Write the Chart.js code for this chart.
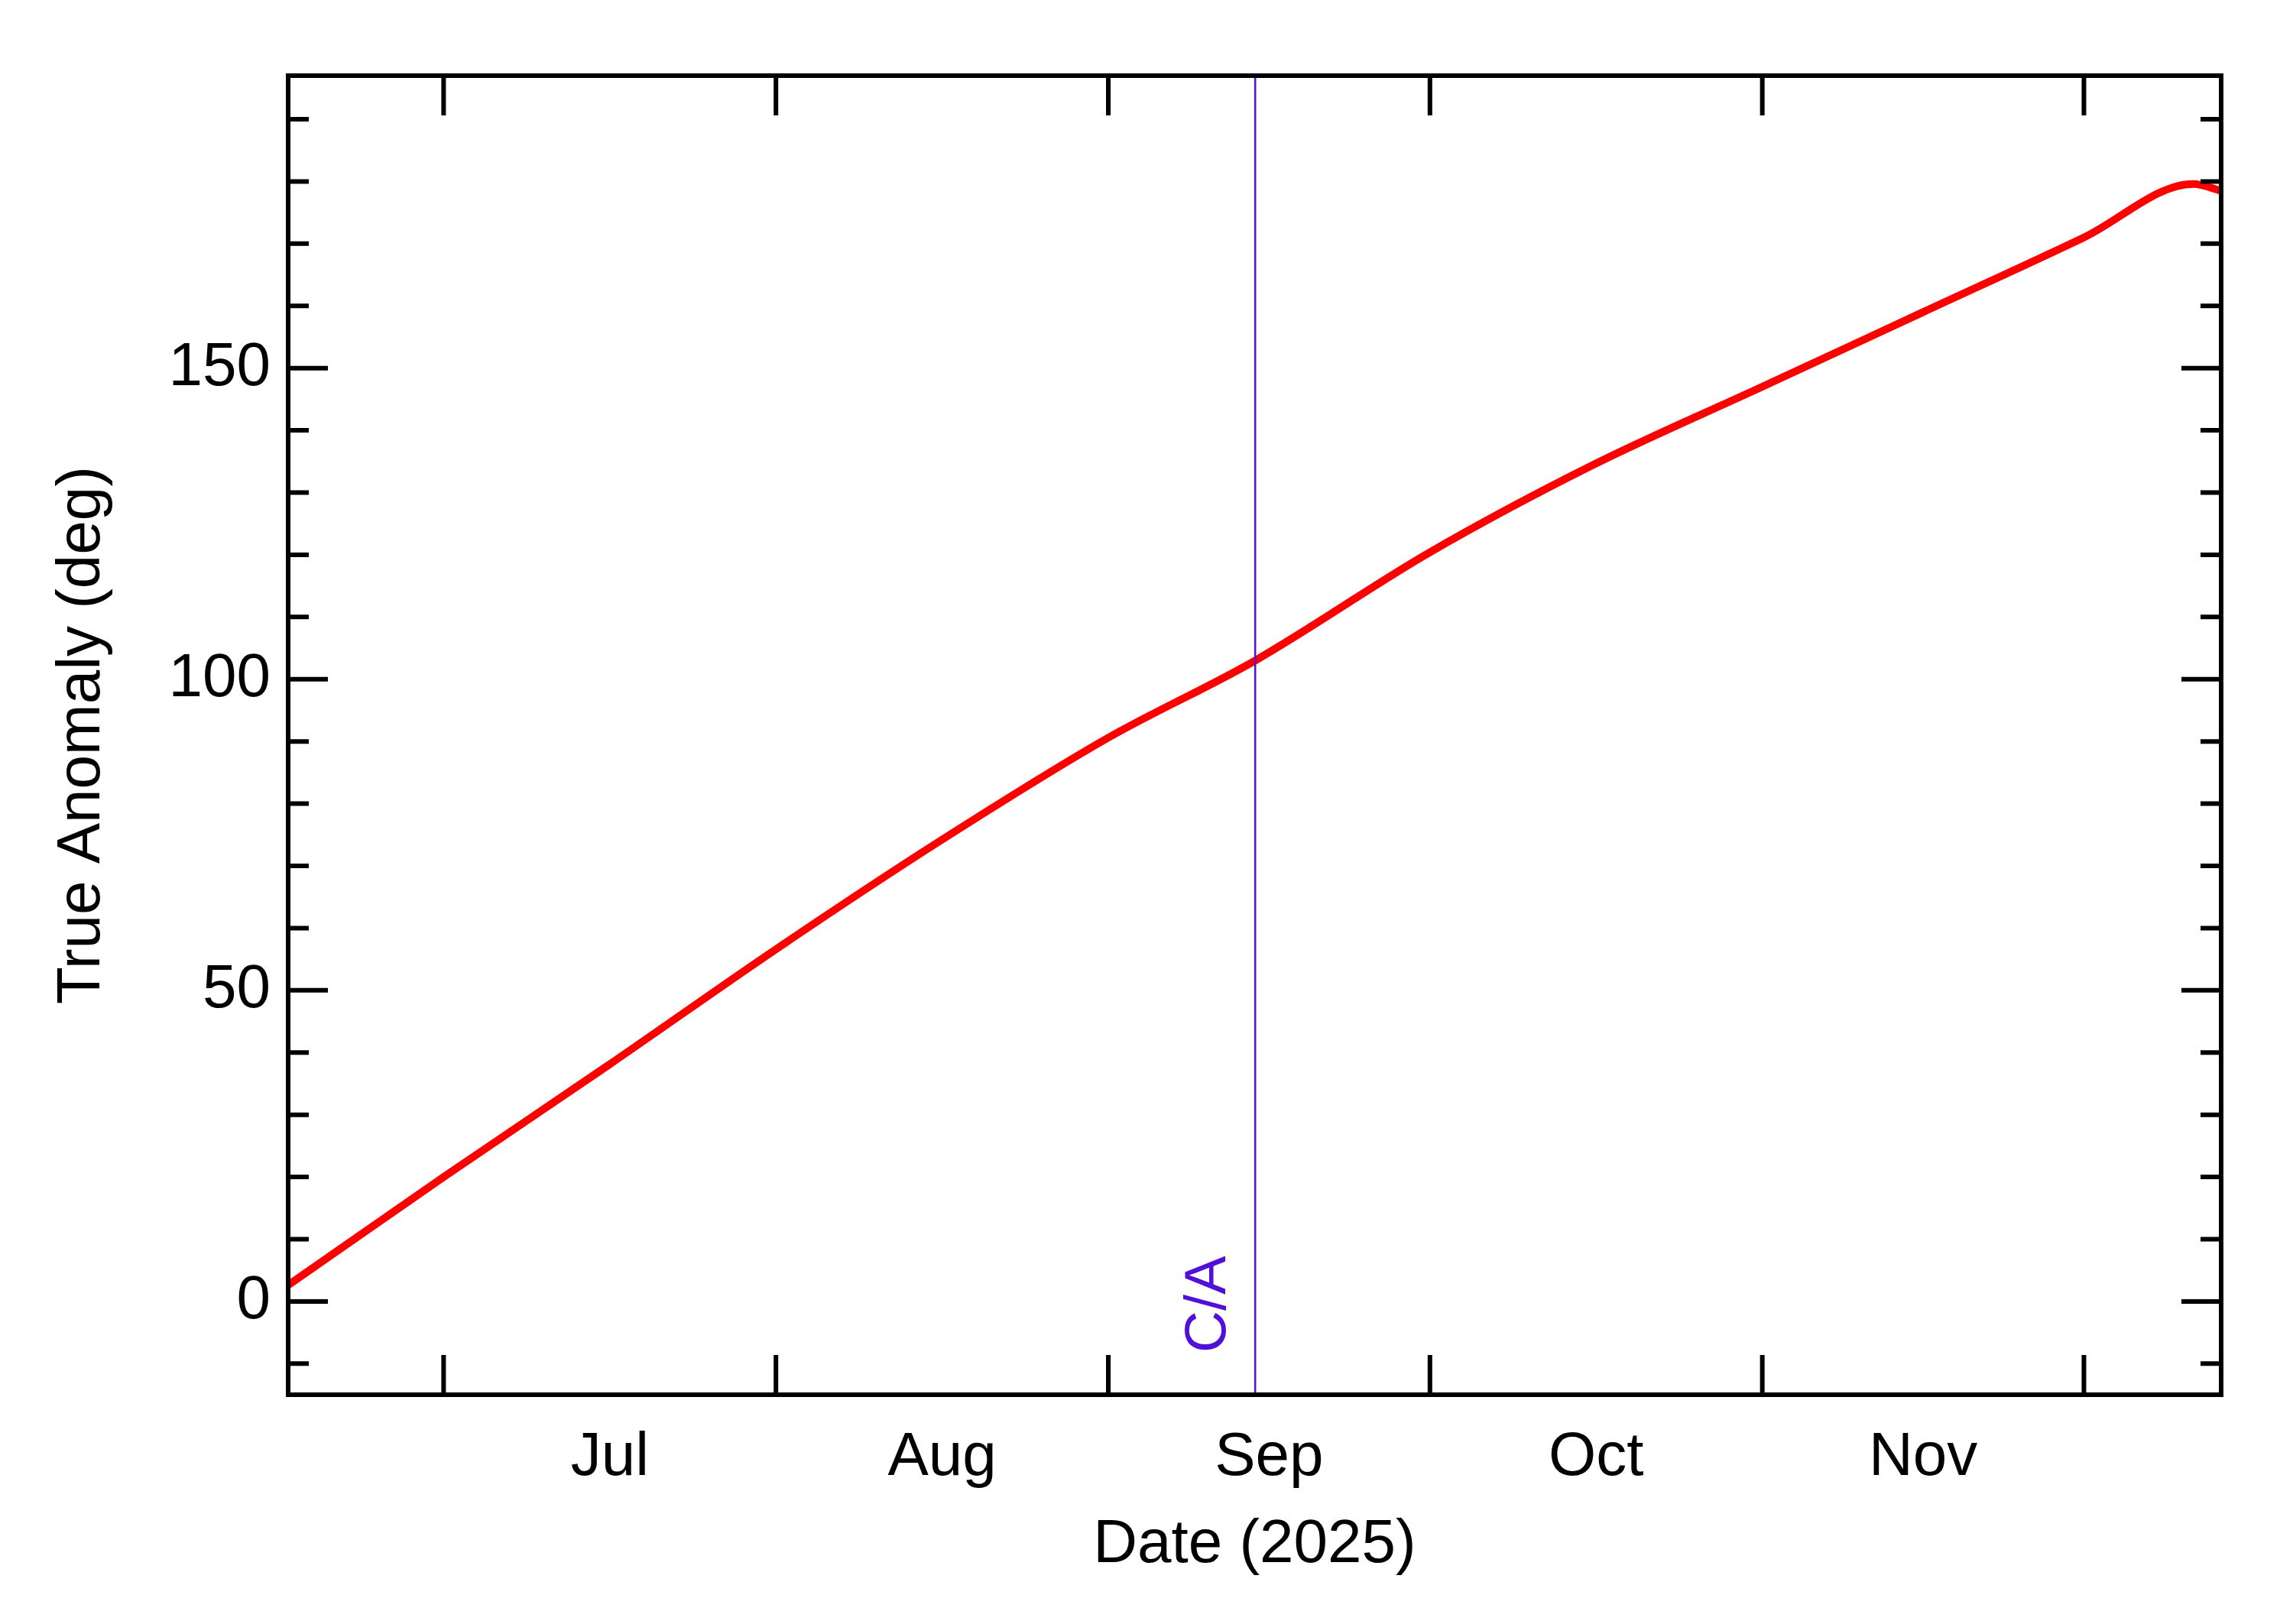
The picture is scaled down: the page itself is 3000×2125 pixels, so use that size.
<!DOCTYPE html>
<html><head><meta charset="utf-8">
<script src="https://cdn.jsdelivr.net/npm/chart.js@4/dist/chart.umd.min.js"></script>
<style>html,body{margin:0;padding:0;background:#fff}canvas{display:block}</style>
</head><body>
<canvas id="c" width="3000" height="2125"></canvas>
<script>
// x values: day of year 2025 (Jan 1 = 0)
const days = [166.5, 181, 196.4, 212, 227.3, 243, 256.7, 273, 288.3, 304, 319, 334, 344.2, 346.8];
const anomaly = [2.6, 20, 38, 56.6, 74, 90.6, 103, 120.4, 134.5, 147, 159, 171, 179.6, 178.5];
const monthStarts = [181, 212, 243, 273, 304, 334];
const monthLabels = ['Jul', 'Aug', 'Sep', 'Oct', 'Nov'];
const monthMids = [196.5, 227.5, 258, 288.5, 319];
const yLabels = [0, 50, 100, 150];
const caDay = 256.7;
const xMin = 166.5, xMax = 346.8, yMin = -15, yMax = 197;

const FONT = 'Liberation Sans, Arial, sans-serif';

const frame = {
  id: 'frame',
  afterDraw(chart) {
    const {ctx, chartArea: a, scales: {x, y}} = chart;
    ctx.save();
    // C/A line
    const cx = x.getPixelForValue(caDay);
    ctx.strokeStyle = '#5010D8'; ctx.lineWidth = 2.5;
    ctx.beginPath(); ctx.moveTo(cx, a.top); ctx.lineTo(cx, a.bottom); ctx.stroke();
    ctx.fillStyle = '#5010D8'; ctx.font = '76px ' + FONT;
    ctx.translate(cx - 22, a.bottom - 55); ctx.rotate(-Math.PI/2);
    ctx.textAlign = 'left'; ctx.textBaseline = 'bottom';
    ctx.fillText('C/A', 0, 0);
    ctx.restore();
    ctx.save();
    ctx.strokeStyle = '#000'; ctx.lineWidth = 6;
    ctx.strokeRect(a.left, a.top, a.right - a.left, a.bottom - a.top);
    ctx.beginPath();
    monthStarts.forEach(d => {
      const px = x.getPixelForValue(d);
      ctx.moveTo(px, a.bottom); ctx.lineTo(px, a.bottom - 52);
      ctx.moveTo(px, a.top); ctx.lineTo(px, a.top + 52);
    });
    for (let v = -10; v <= 190; v += 10) {
      const py = y.getPixelForValue(v);
      const L = (v % 50 === 0) ? 52 : 27;
      ctx.moveTo(a.left, py); ctx.lineTo(a.left + L, py);
      ctx.moveTo(a.right, py); ctx.lineTo(a.right - L, py);
    }
    ctx.stroke();
    ctx.restore();
  }
};

new Chart(document.getElementById('c'), {
  type: 'line',
  data: { datasets: [{
    data: days.map((d, i) => ({x: d, y: anomaly[i]})),
    borderColor: '#FF0000', borderWidth: 10, pointRadius: 0,
    cubicInterpolationMode: 'monotone', fill: false
  }]},
  options: {
    responsive: false, animation: false, devicePixelRatio: 1,
    layout: { padding: { left: 0, top: 99, right: 94, bottom: 0 } },
    plugins: { legend: {display: false}, tooltip: {enabled: false} },
    scales: {
      x: {
        type: 'linear', min: xMin, max: xMax,
        afterBuildTicks: s => { s.ticks = monthMids.map(v => ({value: v})); },
        afterFit: s => { s.height = 300; },
        ticks: { autoSkip: false, maxRotation: 0, padding: 35, color: '#000',
          font: {family: FONT, size: 80},
          callback: (v) => { const i = monthMids.indexOf(v); return i >= 0 ? monthLabels[i] : ''; } },
        grid: { display: false, drawTicks: false }, border: { display: false },
        title: { display: true, text: 'Date (2025)', color: '#000',
          font: {family: FONT, size: 80}, padding: {top: 10, bottom: 55} }
      },
      y: {
        min: yMin, max: yMax,
        afterBuildTicks: s => { s.ticks = yLabels.map(v => ({value: v})); },
        afterFit: s => { s.width = 377; },
        ticks: { padding: 23, color: '#000', font: {family: FONT, size: 80} },
        grid: { display: false, drawTicks: false }, border: { display: false },
        title: { display: true, text: 'True Anomaly (deg)', color: '#000',
          font: {family: FONT, size: 80}, padding: {top: 60, bottom: 0} }
      }
    }
  },
  plugins: [frame]
});
</script>
</body></html>
